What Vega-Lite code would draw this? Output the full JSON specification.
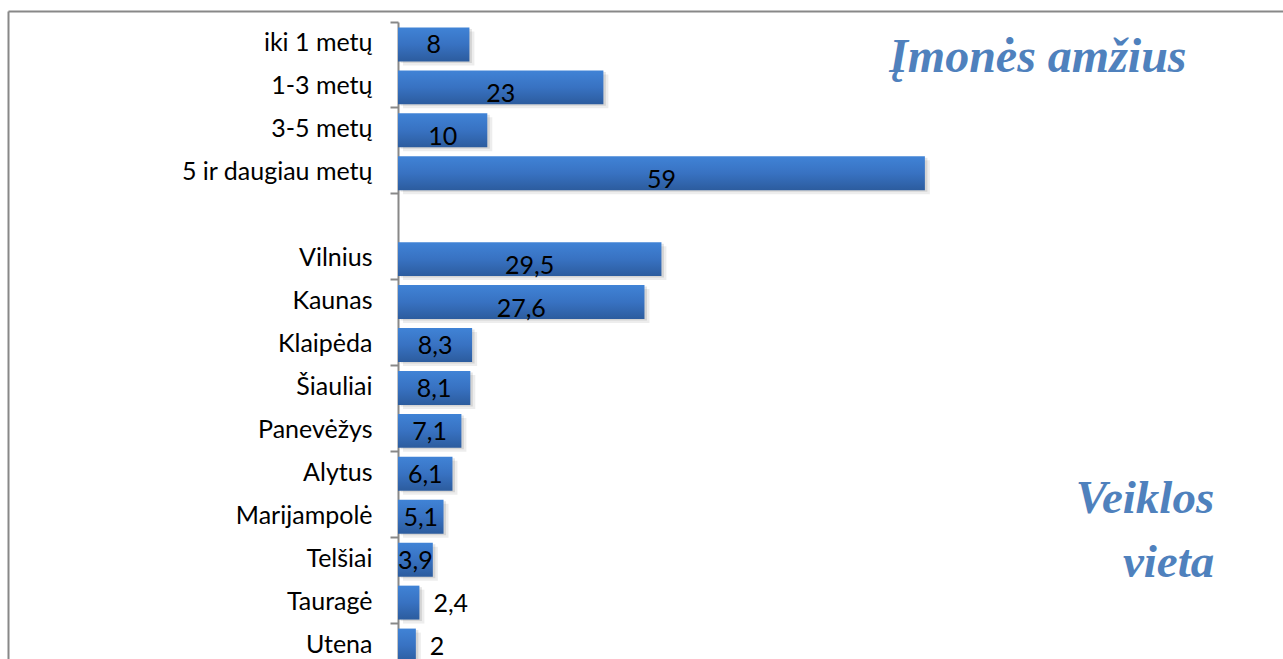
{
  "$schema": "https://vega.github.io/schema/vega-lite/v6.json",
  "width": 1275,
  "height": 648,
  "autosize": {"type": "none"},
  "padding": {"left": 8, "top": 11, "right": 0, "bottom": 0},
  "background": "white",
  "config": {
    "view": {"stroke": null},
    "axis": {"grid": false},
    "locale": {"number": {"decimal": ",", "thousands": " ", "grouping": [3], "currency": ["", " €"]}}
  },
  "data": {"values": [
    {"cat": "iki 1 metų", "v": 8},
    {"cat": "1-3 metų", "v": 23},
    {"cat": "3-5 metų", "v": 10},
    {"cat": "5 ir daugiau metų", "v": 59},
    {"cat": "Vilnius", "v": 29.5},
    {"cat": "Kaunas", "v": 27.6},
    {"cat": "Klaipėda", "v": 8.3},
    {"cat": "Šiauliai", "v": 8.1},
    {"cat": "Panevėžys", "v": 7.1},
    {"cat": "Alytus", "v": 6.1},
    {"cat": "Marijampolė", "v": 5.1},
    {"cat": "Telšiai", "v": 3.9},
    {"cat": "Tauragė", "v": 2.4},
    {"cat": "Utena", "v": 2}
  ]},
  "layer": [
    {
      "mark": {"type": "point", "opacity": 0},
      "encoding": {
        "x": {"field": "v", "type": "quantitative", "scale": {"domain": [-43.67, 99.1], "nice": false, "zero": false},
              "axis": {"orient": "top", "domain": true, "domainColor": "#888888", "domainWidth": 2, "ticks": false, "labels": false, "title": null, "grid": false}},
        "y": {"field": "cat", "type": "nominal", "scale": {"type": "band", "domain": ["iki 1 metų", "1-3 metų", "3-5 metų", "5 ir daugiau metų", " ", "Vilnius", "Kaunas", "Klaipėda", "Šiauliai", "Panevėžys", "Alytus", "Marijampolė", "Telšiai", "Tauragė", "Utena"]},
              "axis": {"orient": "left", "domain": true, "domainColor": "#888888", "domainWidth": 2, "ticks": false, "labels": false, "title": null, "grid": false}}
      }
    },
    {
      "layer": [
        {
          "mark": {"type": "bar", "height": {"band": 0.79}, "color": "#000000", "opacity": 0.07, "xOffset": 5, "yOffset": 5},
          "encoding": {
            "x": {"field": "v", "type": "quantitative", "scale": {"domain": [-43.67, 99.1], "nice": false, "zero": false}, "axis": null},
            "y": {"field": "cat", "type": "nominal", "scale": {"type": "band", "domain": ["iki 1 metų", "1-3 metų", "3-5 metų", "5 ir daugiau metų", " ", "Vilnius", "Kaunas", "Klaipėda", "Šiauliai", "Panevėžys", "Alytus", "Marijampolė", "Telšiai", "Tauragė", "Utena"], "range": [11, 655], "paddingInner": 0, "paddingOuter": 0},
                  "axis": {"orient": "left", "offset": -390, "values": ["iki 1 metų", "3-5 metų", " ", "Kaunas", "Šiauliai", "Alytus", "Telšiai", "Utena"], "bandPosition": 0,
                           "domain": true, "domainColor": "#888888", "domainWidth": 2, "ticks": true, "tickSize": 8, "tickWidth": 2, "tickColor": "#888888", "labels": false, "title": null, "grid": false}}
          }
        },
        {
          "mark": {"type": "bar", "height": {"band": 0.79}, "color": "#000000", "opacity": 0.1, "xOffset": 2.5, "yOffset": 2.5},
          "encoding": {
            "x": {"field": "v", "type": "quantitative", "scale": {"domain": [-43.67, 99.1], "nice": false, "zero": false}, "axis": null},
            "y": {"field": "cat", "type": "nominal", "scale": {"type": "band", "domain": ["iki 1 metų", "1-3 metų", "3-5 metų", "5 ir daugiau metų", " ", "Vilnius", "Kaunas", "Klaipėda", "Šiauliai", "Panevėžys", "Alytus", "Marijampolė", "Telšiai", "Tauragė", "Utena"], "range": [11, 655], "paddingInner": 0, "paddingOuter": 0}, "axis": null}
          }
        },
        {
          "mark": {"type": "bar", "height": {"band": 0.79}, "yOffset": 1,
                   "color": {"gradient": "linear", "x1": 0, "y1": 0, "x2": 0, "y2": 1,
                             "stops": [{"offset": 0, "color": "#4083d6"}, {"offset": 0.5, "color": "#3872c2"}, {"offset": 1, "color": "#2c5c9e"}]}},
          "encoding": {
            "x": {"field": "v", "type": "quantitative", "scale": {"domain": [-43.67, 99.1], "nice": false, "zero": false}, "axis": null},
            "y": {"field": "cat", "type": "nominal", "scale": {"type": "band", "domain": ["iki 1 metų", "1-3 metų", "3-5 metų", "5 ir daugiau metų", " ", "Vilnius", "Kaunas", "Klaipėda", "Šiauliai", "Panevėžys", "Alytus", "Marijampolė", "Telšiai", "Tauragė", "Utena"], "range": [11, 655], "paddingInner": 0, "paddingOuter": 0},
                  "axis": {"orient": "left", "offset": -390, "domain": false, "ticks": false, "tickSize": 0, "labelPadding": 26, "labelFont": "Lato", "labelFontSize": 25, "labelColor": "#000000", "labelLimit": 400, "title": null, "grid": false}}
          }
        },
        {
          "transform": [{"filter": "datum.v >= 10"}, {"calculate": "datum.v / 2", "as": "mid"}],
          "mark": {"type": "text", "font": "Lato", "fontSize": 25, "color": "#000000", "align": "center", "baseline": "middle", "dy": 8},
          "encoding": {
            "x": {"field": "mid", "type": "quantitative", "scale": {"domain": [-43.67, 99.1], "nice": false, "zero": false}, "axis": null},
            "y": {"field": "cat", "type": "nominal", "scale": {"type": "band", "domain": ["iki 1 metų", "1-3 metų", "3-5 metų", "5 ir daugiau metų", " ", "Vilnius", "Kaunas", "Klaipėda", "Šiauliai", "Panevėžys", "Alytus", "Marijampolė", "Telšiai", "Tauragė", "Utena"], "range": [11, 655], "paddingInner": 0, "paddingOuter": 0}, "axis": null},
            "text": {"field": "v", "type": "quantitative", "format": "~g"}
          }
        },
        {
          "transform": [{"filter": "datum.v >= 3 && datum.v < 10"}, {"calculate": "datum.v / 2", "as": "mid"}],
          "mark": {"type": "text", "font": "Lato", "fontSize": 25, "color": "#000000", "align": "center", "baseline": "middle", "dy": 2},
          "encoding": {
            "x": {"field": "mid", "type": "quantitative", "scale": {"domain": [-43.67, 99.1], "nice": false, "zero": false}, "axis": null},
            "y": {"field": "cat", "type": "nominal", "scale": {"type": "band", "domain": ["iki 1 metų", "1-3 metų", "3-5 metų", "5 ir daugiau metų", " ", "Vilnius", "Kaunas", "Klaipėda", "Šiauliai", "Panevėžys", "Alytus", "Marijampolė", "Telšiai", "Tauragė", "Utena"], "range": [11, 655], "paddingInner": 0, "paddingOuter": 0}, "axis": null},
            "text": {"field": "v", "type": "quantitative", "format": "~g"}
          }
        },
        {
          "transform": [{"filter": "datum.v < 3"}],
          "mark": {"type": "text", "font": "Lato", "fontSize": 25, "color": "#000000", "align": "left", "baseline": "middle", "dx": 14, "dy": 2},
          "encoding": {
            "x": {"field": "v", "type": "quantitative", "scale": {"domain": [-43.67, 99.1], "nice": false, "zero": false}, "axis": null},
            "y": {"field": "cat", "type": "nominal", "scale": {"type": "band", "domain": ["iki 1 metų", "1-3 metų", "3-5 metų", "5 ir daugiau metų", " ", "Vilnius", "Kaunas", "Klaipėda", "Šiauliai", "Panevėžys", "Alytus", "Marijampolė", "Telšiai", "Tauragė", "Utena"], "range": [11, 655], "paddingInner": 0, "paddingOuter": 0}, "axis": null},
            "text": {"field": "v", "type": "quantitative", "format": "~g"}
          }
        },
        {
          "data": {"values": [{"t": "Įmonės amžius"}]},
          "mark": {"type": "text", "font": "Liberation Serif", "fontSize": 48, "fontStyle": "italic", "fontWeight": "bold", "color": "#4f81bd", "align": "right", "baseline": "alphabetic", "dy": 28.5},
          "encoding": {
            "x": {"datum": 88.3, "type": "quantitative", "scale": {"domain": [-43.67, 99.1], "nice": false, "zero": false}, "axis": null},
            "y": {"datum": "iki 1 metų", "type": "nominal", "scale": {"type": "band", "domain": ["iki 1 metų", "1-3 metų", "3-5 metų", "5 ir daugiau metų", " ", "Vilnius", "Kaunas", "Klaipėda", "Šiauliai", "Panevėžys", "Alytus", "Marijampolė", "Telšiai", "Tauragė", "Utena"], "range": [11, 655], "paddingInner": 0, "paddingOuter": 0}, "axis": null},
            "text": {"field": "t"}
          }
        },
        {
          "data": {"values": [{"t": ["Veiklos", "vieta"]}]},
          "mark": {"type": "text", "font": "Liberation Serif", "fontSize": 47, "fontStyle": "italic", "fontWeight": "bold", "color": "#4f81bd", "align": "right", "baseline": "alphabetic", "dy": -2.7, "lineHeight": 64},
          "encoding": {
            "x": {"datum": 91.4, "type": "quantitative", "scale": {"domain": [-43.67, 99.1], "nice": false, "zero": false}, "axis": null},
            "y": {"datum": "Marijampolė", "type": "nominal", "scale": {"type": "band", "domain": ["iki 1 metų", "1-3 metų", "3-5 metų", "5 ir daugiau metų", " ", "Vilnius", "Kaunas", "Klaipėda", "Šiauliai", "Panevėžys", "Alytus", "Marijampolė", "Telšiai", "Tauragė", "Utena"], "range": [11, 655], "paddingInner": 0, "paddingOuter": 0}, "axis": null},
            "text": {"field": "t"}
          }
        }
      ],
      "resolve": {"axis": {"y": "independent"}}
    }
  ],
  "resolve": {"scale": {"y": "independent"}, "axis": {"x": "independent"}}
}
